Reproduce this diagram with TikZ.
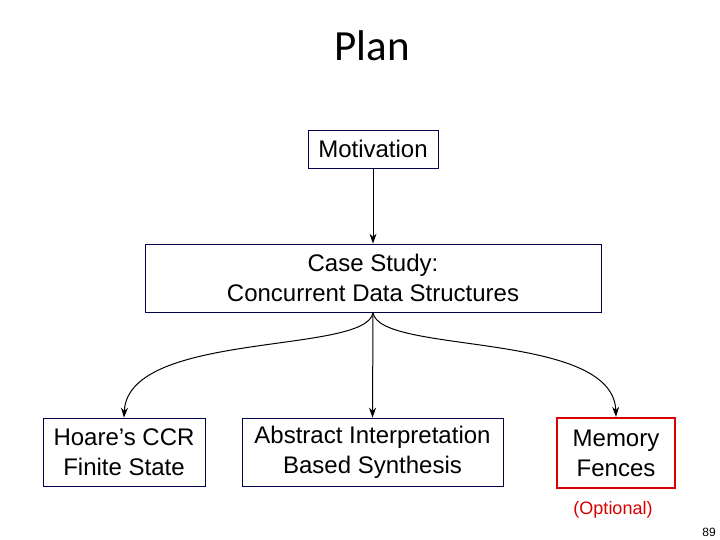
\documentclass[tikz,border=0pt]{standalone}
\usepackage{fontspec}
\setmainfont{Liberation Sans}
\newfontfamily\titlefont{Carlito}
\usetikzlibrary{arrows.meta}
\begin{document}
\begin{tikzpicture}[x=1pt,y=-1pt,
  box/.style={draw=black!70!blue,line width=0.7pt,inner sep=0pt,align=center,font=\fontsize{24}{30}\selectfont},
  arr/.style={-{Stealth[length=10pt,width=7pt]},line width=1pt}]
\useasboundingbox (0,0) rectangle (720,540);
\node[font=\titlefont\fontsize{43}{50}\selectfont] (title) at (372,46) {Plan};
\node[box,minimum width=130pt,minimum height=38pt] (mot) at (373,149) {Motivation};
\node[box,minimum width=456pt,minimum height=68pt] (cs) at (373,278) {Case Study:\\Concurrent Data Structures};
\node[box,minimum width=162pt,minimum height=68pt] (ho) at (124,452) {Hoare’s CCR\\Finite State};
\node[box,minimum width=261pt,minimum height=68pt] (ai) at (372.5,452) {Abstract Interpretation\\Based Synthesis};
\node[box,draw=red!85!black,line width=2.4pt,minimum width=118pt,minimum height=70pt] (mf) at (616,453) {Memory\\Fences};
\node[text=red!85!black,font=\fontsize{18}{21}\selectfont] (opt) at (613,510) {(Optional)};
\node[font=\fontsize{12}{14}\selectfont] (pg) at (709,532) {89};
\draw[arr] (mot.south) -- (cs.north);
\draw[arr] (cs.south) -- (ai.north);
\draw[arr] (cs.south) .. controls (368,355) and (128,330) .. (ho.north);
\draw[arr] (cs.south) .. controls (378,355) and (613,330) .. (mf.north);
\end{tikzpicture}
\end{document}
